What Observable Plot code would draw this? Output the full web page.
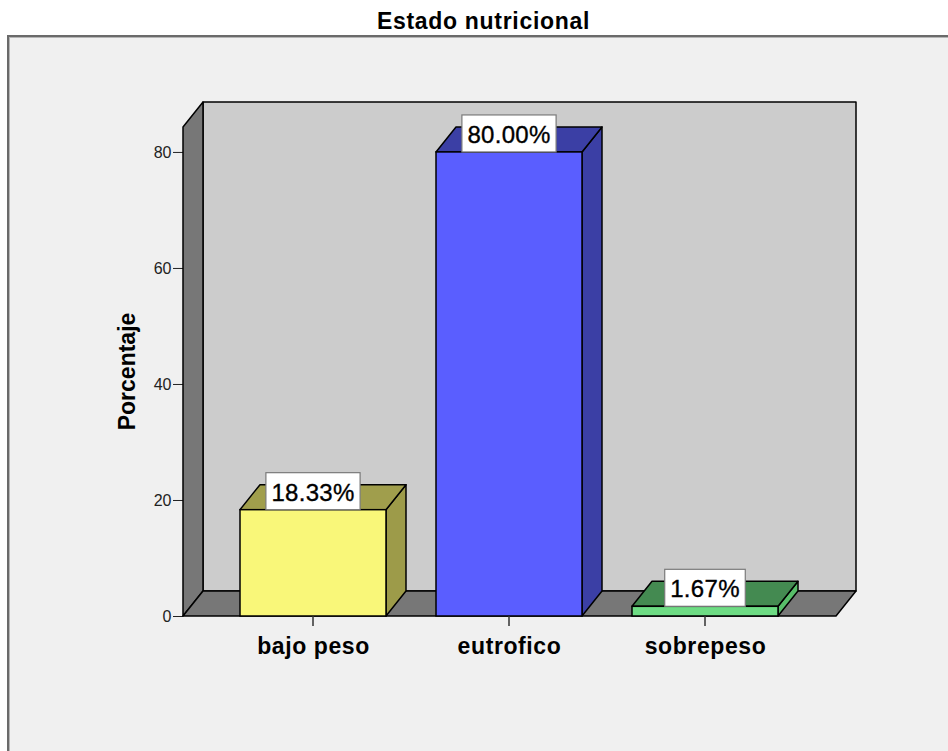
<!DOCTYPE html>
<html><head><meta charset="utf-8">
<script src="https://cdn.jsdelivr.net/npm/d3@7"></script>
<script src="https://cdn.jsdelivr.net/npm/@observablehq/plot@0.6"></script>
<style>
body{margin:0;background:#fff;width:948px;height:751px;overflow:hidden;position:relative;font-family:"Liberation Sans",Arial,sans-serif}
#title{position:absolute;left:19px;right:0;top:10px;line-height:23px;font-size:23px;font-weight:bold;text-align:center;letter-spacing:0.7px;color:#000}
#frame{position:absolute;left:7px;top:35px;width:960px;height:740px;border-left:2px solid #6a6a6a;border-top:2px solid #6a6a6a;background:#f0f0f0;box-shadow:inset 1px 1px 0 #b5b5b5}
#chart{position:absolute;left:0;top:0}
</style></head><body>
<div id="title">Estado nutricional</div>
<div id="frame"><div id="chart"></div></div>
<script>
const categories = ["bajo peso", "eutrofico", "sobrepeso"];
const percentages = [18.33, 80.00, 1.67];
const valueLabels = ["18.33%", "80.00%", "1.67%"];
const yTicks = [0, 20, 40, 60, 80];
const yMax = 84.3;
const yTitle = "Porcentaje";
const frontColors = ["#f9f779", "#5a5eff", "#6edc84"];
const topColors = ["#a09e4c", "#3b3fa5", "#448a51"];
const sideColors = ["#9d9b49", "#3b3fa5", "#58bd69"];
const wallColor = "#cccccc";
const floorColor = "#777777";
const depth = [20, -25];

const data = categories.map((c, i) => ({cat: c, value: percentages[i], label: valueLabels[i], i}));

const svgNS = "http://www.w3.org/2000/svg";
function el(tag, attrs) { const e = document.createElementNS(svgNS, tag); for (const k in attrs) e.setAttribute(k, attrs[k]); return e; }
const poly = (pts, fill) => el("polygon", {points: pts.map(p => p.join(",")).join(" "), fill, stroke: "#000", "stroke-width": 1.5, "stroke-linejoin": "round"});
const bwOf = x => typeof x.bandwidth === "function" ? x.bandwidth() : x.bandwidth;

function walls(index, scales, values, dims) {
  const {y} = scales; const [dx, dy] = depth;
  const L = dims.marginLeft, R = dims.width - dims.marginRight;
  const b = y(0), t = y(yMax);
  const g = el("g", {});
  g.append(poly([[L + dx, t + dy], [R + dx, t + dy], [R + dx, b + dy], [L + dx, b + dy]], wallColor));
  g.append(poly([[L, t], [L + dx, t + dy], [L + dx, b + dy], [L, b]], floorColor));
  g.append(poly([[L, b], [L + dx, b + dy], [R + dx, b + dy], [R, b]], floorColor));
  return g;
}

function barDepth(index, scales) {
  const {x, y} = scales; const [dx, dy] = depth; const bw = bwOf(x);
  const g = el("g", {});
  for (const d of data) {
    const x0 = x(d.cat), x1 = x0 + bw, yv = y(d.value), y0 = y(0);
    g.append(poly([[x1, yv], [x1 + dx, yv + dy], [x1 + dx, y0 + dy], [x1, y0]], sideColors[d.i]));
    g.append(poly([[x0, yv], [x0 + dx, yv + dy], [x1 + dx, yv + dy], [x1, yv]], topColors[d.i]));
  }
  return g;
}

function xTicks(index, scales) {
  const {x, y} = scales; const bw = bwOf(x);
  const g = el("g", {stroke: "#333", "stroke-width": 1.5});
  for (const d of data) {
    const cx = x(d.cat) + bw / 2, y0 = y(0);
    g.append(el("line", {x1: cx, x2: cx, y1: y0, y2: y0 + 10}));
  }
  return g;
}

function yLabel(index, scales, values, dims) {
  const cx = dims.marginLeft - 48.5;
  const cy = (dims.marginTop + dims.height - dims.marginBottom) / 2;
  const t = el("text", {transform: `translate(${cx},${cy}) rotate(-90)`, "text-anchor": "middle", "font-size": 23, "font-weight": "bold", "font-family": "Liberation Sans, Arial, sans-serif", fill: "#000"});
  t.textContent = yTitle;
  return t;
}

const ctx = document.createElement("canvas").getContext("2d");
ctx.font = "24px 'Liberation Sans'";
function valueBoxes(index, scales) {
  const {x, y} = scales; const bw = bwOf(x);
  const g = el("g", {});
  for (const d of data) {
    const cx = x(d.cat) + bw / 2, yv = y(d.value);
    const tw = ctx.measureText(d.label).width + 0.3 * d.label.length;
    const w = tw + 11, h = 37;
    g.append(el("rect", {x: cx - w / 2, y: yv - h, width: w, height: h, fill: "#fff", stroke: "#7a7a7a", "stroke-width": 1.2}));
    const t = el("text", {x: cx, y: yv - 9, "text-anchor": "middle", "font-size": 24, "font-family": "Liberation Sans, Arial, sans-serif", fill: "#000", stroke: "#000", "stroke-width": 0.35, "letter-spacing": "0.3px"});
    t.textContent = d.label;
    g.append(t);
  }
  return g;
}

const chart = Plot.plot({
  width: 939,
  height: 714,
  marginLeft: 174,
  marginRight: 112,
  marginTop: 90,
  marginBottom: 135,
  style: {background: "transparent", fontSize: "16px", fontFamily: "Liberation Sans, Arial, sans-serif", color: "#222", overflow: "visible"},
  x: {domain: categories, paddingInner: 0.255, paddingOuter: 0.293, axis: null},
  y: {domain: [0, yMax], ticks: yTicks, tickSize: 10, tickPadding: 2, label: null},
  color: {domain: categories, range: frontColors},
  marks: [
    walls,
    barDepth,
    Plot.barY(data, {x: "cat", y: "value", fill: "cat", stroke: "#000", strokeWidth: 1.5}),
    xTicks,
    Plot.text(data, {x: "cat", text: "cat", frameAnchor: "bottom", lineAnchor: "top", dy: 21, fontSize: 23, fontWeight: "bold", fill: "#000"}),
    yLabel,
    valueBoxes
  ]
});
document.getElementById("chart").append(chart);
d3.select(chart).selectAll('g[aria-label="text"] text').style("letter-spacing", "0.6px");
</script>
</body></html>
